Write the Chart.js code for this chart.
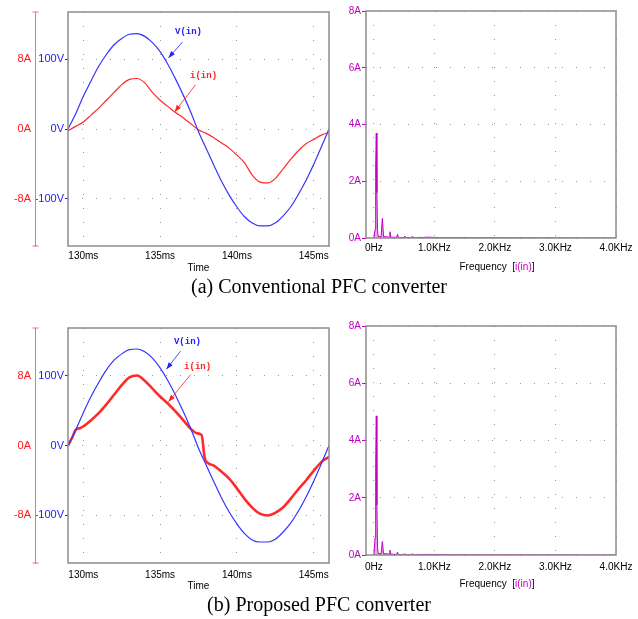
<!DOCTYPE html>
<html>
<head>
<meta charset="utf-8">
<script src="https://cdn.jsdelivr.net/npm/chart.js@4.4.0/dist/chart.umd.min.js"></script>
<style>
  body { margin: 0; background: #fff; width: 638px; height: 619px; position: relative; overflow: hidden; font-family: "Liberation Sans", Arial, sans-serif; }
  canvas { position: absolute; }
  .caption { position: absolute; left: 0; width: 638px; text-align: center; font-family: "Liberation Serif", "Times New Roman", serif; font-size: 20px; line-height: 20px; color: #000; }
  .ftitle { position: absolute; left: 397px; width: 200px; text-align: center; font-size: 10px; line-height: 12px; color: #000; }
  .ftitle span { color: #c000c0; }
</style>
</head>
<body>
<canvas id="timeA" width="330" height="274" style="left:0;top:0"></canvas>
<canvas id="fftA" width="308" height="274" style="left:330px;top:0"></canvas>
<div class="ftitle" style="top:261px">Frequency &nbsp;[<span>i(in)</span>]</div>
<div class="caption" style="top:276px">(a) Conventional PFC converter</div>

<canvas id="timeB" width="330" height="276" style="left:0;top:316px"></canvas>
<canvas id="fftB" width="308" height="275" style="left:330px;top:316px"></canvas>
<div class="ftitle" style="top:578px">Frequency &nbsp;[<span>i(in)</span>]</div>
<div class="caption" style="top:594px">(b) Proposed PFC converter</div>

<script>
// time axis (ms), sampled every 0.5 ms
const timeMs = [129.0, 129.5, 130.0, 130.5, 131.0, 131.5, 132.0, 132.5, 133.0, 133.5,
                134.0, 134.5, 135.0, 135.5, 136.0, 136.5, 137.0, 137.5, 138.0, 138.5,
                139.0, 139.5, 140.0, 140.5, 141.0, 141.5, 142.0, 142.5, 143.0, 143.5,
                144.0, 144.5, 145.0, 145.5, 146.0];

// (a) conventional converter
const vInA = [0, 22, 47, 69, 90, 107, 121, 130, 136, 137,
              133, 124, 111, 93, 72, 49, 24, -4, -28, -52,
              -75, -95, -112, -126, -135, -139, -139, -135, -125, -112,
              -94, -74, -51, -26, 0];
const iInA = [-0.2, 0.3, 0.8, 1.6, 2.4, 3.3, 4.2, 5.1, 5.7, 5.8,
              5.3, 4.2, 3.3, 2.6, 1.9, 1.3, 0.6, -0.1, -0.5, -1.0,
              -1.6, -2.2, -3.0, -3.9, -5.3, -6.1, -6.2, -5.7, -4.6, -3.5,
              -2.5, -1.7, -1.2, -0.7, -0.4];

// (b) proposed converter
const vInB = [0, 22, 47, 70, 90, 108, 122, 131, 137, 138,
              134, 125, 111, 93, 72, 49, 24, -4, -28, -52,
              -75, -95, -112, -126, -135, -138, -138, -134, -124, -111,
              -94, -74, -51, -26, 0];
const timeIB = [129.0, 129.3, 129.5, 129.8, 130.0, 130.5, 131.0, 131.5, 132.0, 132.5,
                133.0, 133.5, 134.0, 134.5, 135.0, 135.5, 136.0, 136.5, 137.0, 137.4,
                137.7, 137.9, 138.1, 138.5, 139.0, 139.5, 140.0, 140.5, 141.0, 141.5,
                142.0, 142.5, 143.0, 143.5, 144.0, 144.5, 145.0, 145.5, 146.0];
const iInB = [0.0, 1.0, 1.8, 2.0, 2.2, 2.9, 3.7, 4.7, 5.8, 6.9,
              7.8, 8.0, 7.4, 6.5, 5.6, 4.8, 3.9, 2.9, 1.9, 1.4,
              1.2, -1.4, -2.0, -2.3, -3.0, -3.8, -4.9, -6.1, -7.1, -7.8,
              -8.0, -7.7, -7.1, -6.1, -5.0, -4.0, -2.9, -1.9, -1.3];

// spectrum of i(in), frequency in kHz, amplitude in A
const fftFreqKHz = [0, 0.02, 0.03, 0.04, 0.05, 0.06, 0.07, 0.12, 0.14, 0.16,
                    0.25, 0.265, 0.28, 0.375, 0.39, 0.405, 0.495, 0.51, 0.525, 0.615,
                    0.63, 0.645, 0.745, 0.76, 0.775, 0.88, 1.0, 1.3, 4.0];
const fftA = [0, 0.3, 2.5, 3.7, 1.6, 0.3, 0.05, 0.05, 0.69, 0.05,
              0.03, 0.22, 0.03, 0.02, 0.13, 0.02, 0.01, 0.07, 0.01, 0.01,
              0.05, 0.01, 0.01, 0.04, 0.01, 0.03, 0.02, 0.01, 0];
const fftB = [0, 0.6, 3.2, 4.86, 1.75, 0.3, 0.05, 0.05, 0.47, 0.05,
              0.03, 0.17, 0.03, 0.02, 0.1, 0.02, 0.01, 0.05, 0.01, 0.01,
              0.04, 0.01, 0.01, 0.03, 0.01, 0.02, 0.02, 0.01, 0];

// ticks
const timeTicks = [130, 135, 140, 145];
const voltTicks = [-100, 0, 100];
const ampTicks = [-8, 0, 8];
const freqTicks = [0, 1, 2, 3, 4];
const freqTickLabels = ['0Hz', '1.0KHz', '2.0KHz', '3.0KHz', '4.0KHz'];
const fftAmpTicks = [0, 2, 4, 6, 8];

// label arrows, in data units (time ms, value on the named axis)
const notesA = [
    { text: 'V(in)', color: '#2020ff', axis: 'yV', at: [136.85, 140], from: [136.46, 125], to: [135.54, 102] },
    { text: 'i(in)', color: '#ff2020', axis: 'yI', at: [137.83, 6.1], from: [137.3, 5.06], to: [135.94, 1.96] }
];
const notesB = [
    { text: 'V(in)', color: '#2020ff', axis: 'yV', at: [136.78, 148], from: [136.33, 135], to: [135.41, 109] },
    { text: 'i(in)', color: '#ff2020', axis: 'yI', at: [137.44, 9.0], from: [136.98, 8.1], to: [135.54, 5.0] }
];

const BLUE = '#3535ff';
const RED = '#ff2a2a';
const MAGENTA = '#c000c0';
const GRID = '#9a9a9a';

const pts = (xs, ys) => xs.map((x, i) => ({ x, y: ys[i] }));
const setTicks = vals => scale => { scale.ticks = vals.map(v => ({ value: v })); };
// fixed axis height, and no extra side padding for overhanging labels
const fixHeight = h => s => { s.height = h; s.paddingLeft = 0; s.paddingRight = 0; };

// grey frame round the plot area
const frame = {
    id: 'frame',
    afterDatasetsDraw(chart) {
        const { ctx, chartArea: a } = chart;
        ctx.save();
        ctx.strokeStyle = '#8c8c8c';
        ctx.lineWidth = 1.5;
        ctx.strokeRect(a.left, a.top, a.right - a.left, a.bottom - a.top);
        ctx.restore();
    }
};

// end caps on the red current axis
const caps = {
    id: 'caps',
    afterDraw(chart) {
        const s = chart.scales.yI;
        if (!s) return;
        const { ctx, chartArea: a } = chart;
        const x = Math.round(s.right) + 0.5;
        ctx.save();
        ctx.strokeStyle = '#ff6a6a';
        ctx.lineWidth = 1;
        [a.top, a.bottom].forEach(y => {
            ctx.beginPath();
            ctx.moveTo(x - 3, y);
            ctx.lineTo(x + 3, y);
            ctx.stroke();
        });
        ctx.restore();
    }
};

// "V(in)" / "i(in)" labels with arrows
const arrowNotes = {
    id: 'arrowNotes',
    afterDraw(chart, args, opts) {
        const { ctx } = chart;
        const sx = chart.scales.x;
        (opts.items || []).forEach(n => {
            const sy = chart.scales[n.axis];
            const px = p => [sx.getPixelForValue(p[0]), sy.getPixelForValue(p[1])];
            const [tx, ty] = px(n.at);
            const [x1, y1] = px(n.from);
            const [x2, y2] = px(n.to);
            ctx.save();
            ctx.fillStyle = n.color;
            ctx.strokeStyle = n.color;
            ctx.font = 'bold 9px "Liberation Mono", "DejaVu Sans Mono", monospace';
            ctx.textAlign = 'center';
            ctx.textBaseline = 'middle';
            ctx.fillText(n.text, tx, ty);
            ctx.lineWidth = 0.8;
            ctx.beginPath();
            ctx.moveTo(x1, y1);
            ctx.lineTo(x2, y2);
            ctx.stroke();
            const ang = Math.atan2(y2 - y1, x2 - x1);
            const len = 7, half = 2.5;
            ctx.beginPath();
            ctx.moveTo(x2, y2);
            ctx.lineTo(x2 - len * Math.cos(ang) + half * Math.sin(ang), y2 - len * Math.sin(ang) - half * Math.cos(ang));
            ctx.lineTo(x2 - len * Math.cos(ang) - half * Math.sin(ang), y2 - len * Math.sin(ang) + half * Math.cos(ang));
            ctx.closePath();
            ctx.fill();
            ctx.restore();
        });
    }
};

function timeChart(id, vData, iTimes, iData, iWidth, notes, padTop, axisH, labelPad) {
    return new Chart(document.getElementById(id), {
        type: 'line',
        data: {
            datasets: [
                {
                    label: 'V(in)',
                    data: pts(timeMs, vData),
                    yAxisID: 'yV',
                    borderColor: BLUE,
                    borderWidth: 1.2,
                    pointRadius: 0,
                    cubicInterpolationMode: 'monotone'
                },
                {
                    label: 'i(in)',
                    data: pts(iTimes, iData),
                    yAxisID: 'yI',
                    borderColor: RED,
                    borderWidth: iWidth,
                    pointRadius: 0,
                    cubicInterpolationMode: 'monotone'
                }
            ]
        },
        options: {
            responsive: false,
            animation: false,
            layout: { autoPadding: false, padding: { top: padTop, right: 1, left: 0, bottom: 0 } },
            plugins: {
                legend: { display: false },
                tooltip: { enabled: false },
                arrowNotes: { items: notes }
            },
            scales: {
                x: {
                    type: 'linear',
                    min: 129,
                    max: 146,
                    afterBuildTicks: setTicks(timeTicks),
                    afterFit: fixHeight(axisH),
                    ticks: {
                        color: '#000',
                        font: { size: 10, family: '"Liberation Sans", Arial, sans-serif' },
                        padding: labelPad,
                        maxRotation: 0,
                        callback: v => v + 'ms'
                    },
                    grid: { color: GRID, drawTicks: false },
                    border: { display: false, dash: [1, 13] },
                    title: {
                        display: true,
                        text: 'Time',
                        color: '#000',
                        font: { size: 10, family: '"Liberation Sans", Arial, sans-serif' },
                        padding: 0
                    }
                },
                yV: {
                    type: 'linear',
                    position: 'left',
                    weight: 0,
                    min: -168,
                    max: 168,
                    afterBuildTicks: setTicks(voltTicks),
                    afterFit: s => { s.width = 33; },
                    ticks: {
                        color: '#1a1aff',
                        font: { size: 11, family: '"Liberation Sans", Arial, sans-serif' },
                        padding: 1,
                        callback: v => v + 'V'
                    },
                    grid: { color: GRID, tickColor: '#1a1aff', tickLength: 3, tickBorderDash: [] },
                    border: { display: false, dash: [1, 13] }
                },
                yI: {
                    type: 'linear',
                    position: 'left',
                    weight: 1,
                    min: -13.44,
                    max: 13.44,
                    afterBuildTicks: setTicks(ampTicks),
                    afterFit: s => { s.width = 35; },
                    ticks: {
                        color: '#ff1a1a',
                        font: { size: 11, family: '"Liberation Sans", Arial, sans-serif' },
                        padding: 4,
                        callback: v => v + 'A'
                    },
                    grid: { display: false, drawTicks: false },
                    border: { display: true, color: '#ff6a6a', width: 1 }
                }
            }
        },
        plugins: [frame, caps, arrowNotes]
    });
}

function fftChart(id, amps, padTop, labelPad) {
    return new Chart(document.getElementById(id), {
        type: 'line',
        data: {
            datasets: [{
                label: 'i(in)',
                data: pts(fftFreqKHz, amps),
                borderColor: MAGENTA,
                borderWidth: 1,
                backgroundColor: 'rgba(235, 150, 230, 0.85)',
                fill: 'origin',
                pointRadius: 0,
                tension: 0
            }]
        },
        options: {
            responsive: false,
            animation: false,
            layout: { autoPadding: false, padding: { top: padTop, right: 22, left: 0, bottom: 0 } },
            plugins: { legend: { display: false }, tooltip: { enabled: false } },
            scales: {
                x: {
                    type: 'linear',
                    min: -0.13,
                    max: 4.0,
                    afterBuildTicks: setTicks(freqTicks),
                    afterFit: fixHeight(36),
                    ticks: {
                        color: '#000',
                        font: { size: 10, family: '"Liberation Sans", Arial, sans-serif' },
                        padding: labelPad,
                        maxRotation: 0,
                        callback: (v, i) => freqTickLabels[i]
                    },
                    grid: { color: GRID, drawTicks: false },
                    border: { display: false, dash: [1, 13] }
                },
                y: {
                    type: 'linear',
                    min: 0,
                    max: 8,
                    afterBuildTicks: setTicks(fftAmpTicks),
                    afterFit: s => { s.width = 36; },
                    ticks: {
                        color: MAGENTA,
                        font: { size: 10, family: '"Liberation Sans", Arial, sans-serif' },
                        padding: 1,
                        callback: v => v + 'A'
                    },
                    grid: { color: GRID, tickColor: MAGENTA, tickLength: 4, tickBorderDash: [] },
                    border: { display: false, dash: [1, 13] }
                }
            }
        },
        plugins: [frame]
    });
}

timeChart('timeA', vInA, timeMs, iInA, 1.2, notesA, 12, 28, 4);
fftChart('fftA', fftA, 11, 4);
timeChart('timeB', vInB, timeIB, iInB, 2.6, notesB, 12, 29, 6);
fftChart('fftB', fftB, 10, 6);
</script>
</body>
</html>
